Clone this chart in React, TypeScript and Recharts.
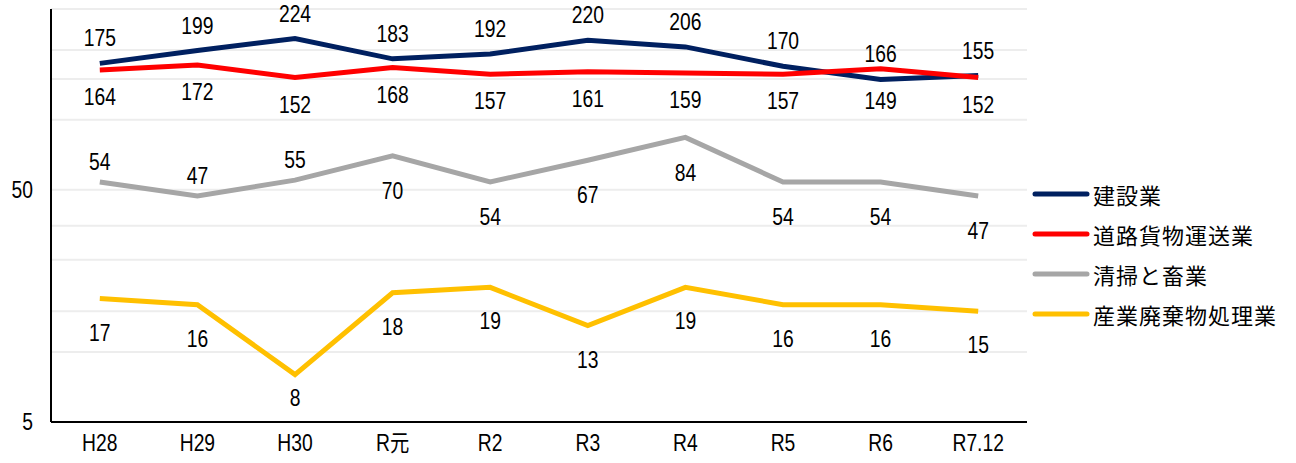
import { LineChart, Line, XAxis, YAxis, CartesianGrid, LabelList } from "recharts";

const years = ["H28", "H29", "H30", "R元", "R2", "R3", "R4", "R5", "R6", "R7.12"];
const construction = [175, 199, 224, 183, 192, 220, 206, 170, 149, 155];
const roadFreight = [164, 172, 152, 168, 157, 161, 159, 157, 166, 152];
const cleaningLivestock = [54, 47, 55, 70, 54, 67, 84, 54, 54, 47];
const industrialWaste = [17, 16, 8, 18, 19, 13, 19, 16, 16, 15];
const yTicks = [5, 50];
const gridValues = [10, 15, 20, 25, 30, 35, 40, 45, 50, 100, 150, 200, 250, 300];

const series = [
    { key: "construction", name: "建設業", color: "#002060" },
    { key: "roadFreight", name: "道路貨物運送業", color: "#FF0000" },
    { key: "cleaningLivestock", name: "清掃と畜業", color: "#A6A6A6" },
    { key: "industrialWaste", name: "産業廃棄物処理業", color: "#FFC000" },
];

const data = years.map((year, i) => ({
    year,
    construction: construction[i],
    roadFreight: roadFreight[i],
    cleaningLivestock: cleaningLivestock[i],
    industrialWaste: industrialWaste[i],
}));

const NUM_FONT = "'Liberation Sans', Arial, 'Noto Sans CJK JP', sans-serif";
const JP_FONT = "'Noto Sans CJK JP', sans-serif";

// the reference uses a narrow gothic face, so squeeze the text horizontally
const NarrowText = ({ x, y, anchor = "middle", children }: any) => (
    <text
        transform={`translate(${x},${y}) scale(0.84,1)`}
        textAnchor={anchor}
        dominantBaseline="central"
        fontFamily={NUM_FONT}
        fontSize={23}
        fill="#000"
    >
        {children}
    </text>
);

const XTick = (props: any) => {
    const { x, y, payload } = props;
    return <NarrowText x={x} y={y + 13}>{payload.value}</NarrowText>;
};

const YTick = (props: any) => {
    const { x, y, payload } = props;
    return <NarrowText x={x - 10} y={y} anchor="end">{payload.value}</NarrowText>;
};

// dy decides where the label sits relative to the point
const makeLabel = (dyFor: (index: number) => number) => (props: any) => {
    const { x, y, value, index } = props;
    return <NarrowText x={x} y={y + dyFor(index)}>{value}</NarrowText>;
};

// the higher of the two top lines gets its label above, the lower one below
const constructionLabel = makeLabel((i) => (construction[i] >= roadFreight[i] ? -25 : 21));
const roadFreightLabel = makeLabel((i) => (roadFreight[i] > construction[i] ? -15 : 27));
const cleaningLabel = makeLabel((i) => (i < 3 ? -20 : 35));
const wasteLabel = makeLabel((i) => (industrialWaste[i] < 10 ? 23 : 34));

const LegendBox = () => (
    <div style={{ position: "absolute", left: 1030, top: 174, display: "flex", flexDirection: "column" }}>
        {series.map((s) => (
            <div key={s.key} style={{ display: "flex", alignItems: "center", height: 40 }}>
                <svg width={62} height={10}>
                    <line x1={5} y1={5} x2={57} y2={5} stroke={s.color} strokeWidth={5} strokeLinecap="round" />
                </svg>
                <span style={{ fontFamily: JP_FONT, fontSize: 22, letterSpacing: 1, color: "#000", marginLeft: 1 }}>{s.name}</span>
            </div>
        ))}
    </div>
);

const App = () => {
    return (
        <div style={{ position: "absolute", left: 0, top: 0, width: 1296, height: 463, background: "#fff" }}>
            <LineChart
                width={1296}
                height={463}
                data={data}
                margin={{ top: 9, right: 269, bottom: 0, left: 0 }}
            >
                <CartesianGrid
                    vertical={false}
                    horizontalValues={gridValues}
                    stroke="#ededed"
                    strokeWidth={2}
                />
                <XAxis
                    dataKey="year"
                    scale="band"
                    height={41}
                    axisLine={{ stroke: "#000", strokeWidth: 2 }}
                    tickLine={false}
                    tick={<XTick />}
                />
                <YAxis
                    scale="log"
                    domain={[5, 300]}
                    ticks={yTicks}
                    allowDataOverflow
                    width={51}
                    axisLine={{ stroke: "#000", strokeWidth: 2 }}
                    tickLine={false}
                    tick={<YTick />}
                />
                <Line dataKey="industrialWaste" name="産業廃棄物処理業" stroke="#FFC000" strokeWidth={5} dot={false} isAnimationActive={false}>
                    <LabelList dataKey="industrialWaste" content={wasteLabel} />
                </Line>
                <Line dataKey="cleaningLivestock" name="清掃と畜業" stroke="#A6A6A6" strokeWidth={5} dot={false} isAnimationActive={false}>
                    <LabelList dataKey="cleaningLivestock" content={cleaningLabel} />
                </Line>
                <Line dataKey="construction" name="建設業" stroke="#002060" strokeWidth={5} dot={false} isAnimationActive={false}>
                    <LabelList dataKey="construction" content={constructionLabel} />
                </Line>
                <Line dataKey="roadFreight" name="道路貨物運送業" stroke="#FF0000" strokeWidth={5} dot={false} isAnimationActive={false}>
                    <LabelList dataKey="roadFreight" content={roadFreightLabel} />
                </Line>
            </LineChart>
            <LegendBox />
        </div>
    );
};

export default App;
